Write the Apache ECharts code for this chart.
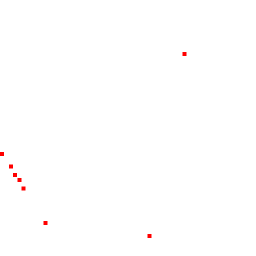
<!DOCTYPE html>
<html><head><meta charset="utf-8">
<script src="https://cdn.jsdelivr.net/npm/echarts@6/dist/echarts.min.js"></script>
<style>html,body{margin:0;padding:0;background:#fff}#c{width:256px;height:256px}</style>
</head><body><div id="c"></div>
<script>
const xValues = [184.5, 2, 11, 15, 19.5, 23.5, 45.5, 149.5];
const yValues = [202, 102, 89.5, 81, 76, 67.5, 33, 20];
const chart = echarts.init(document.getElementById('c'), null, {renderer: 'canvas'});
chart.setOption({
  animation: false,
  backgroundColor: '#ffffff',
  grid: {left: 0, right: 0, top: 0, bottom: 0},
  xAxis: {type: 'value', min: 0, max: 256, show: false},
  yAxis: {type: 'value', min: 0, max: 256, show: false},
  series: [{
    type: 'scatter',
    symbol: 'rect',
    symbolSize: 4,
    itemStyle: {color: '#ff0000', opacity: 1},
    data: xValues.map((x, i) => [x, yValues[i]])
  }]
});
</script></body></html>
